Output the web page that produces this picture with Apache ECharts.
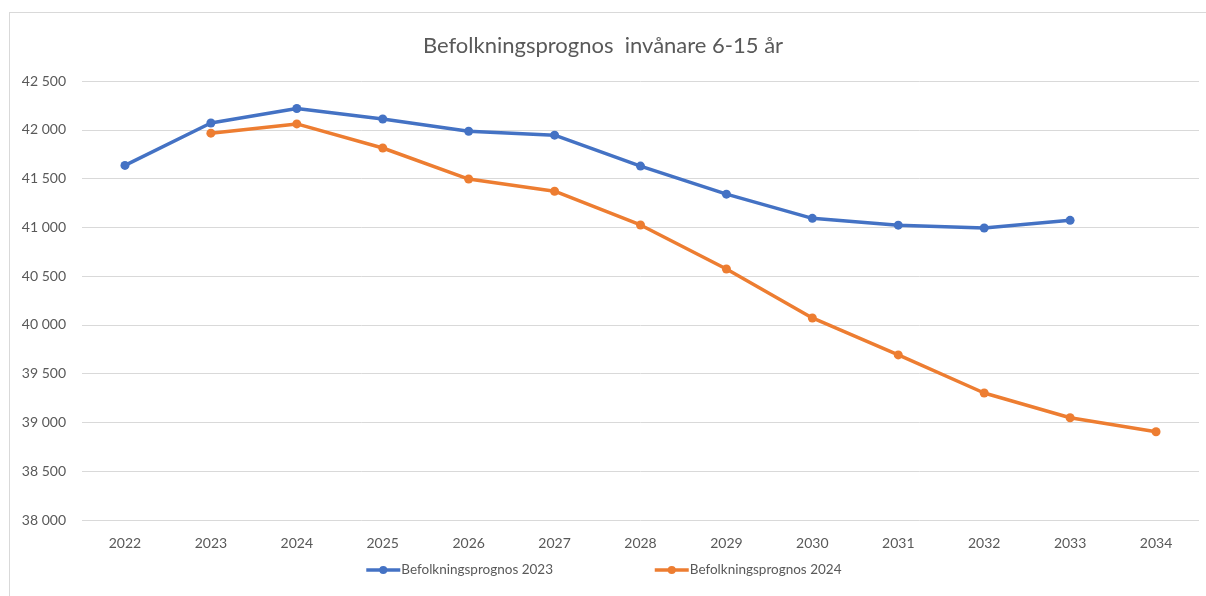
<!DOCTYPE html>
<html>
<head>
<meta charset="utf-8">
<script src="https://cdn.jsdelivr.net/npm/echarts@6/dist/echarts.min.js"></script>
<style>
  html,body{margin:0;padding:0;background:#fff;}
  #frame{position:absolute;left:9px;top:12px;width:1200px;height:600px;border:1px solid #d9d9d9;}
  #echarts_wrap{position:absolute;left:0;top:0;width:1206px;height:596px;}
</style>
</head>
<body>
<div id="frame"></div>
<div id="echarts_wrap"></div>
<script>
var years=['2022','2023','2024','2025','2026','2027','2028','2029','2030','2031','2032','2033','2034'];
var prognos2023=[41635,42070,42218,42110,41985,41945,41628,41340,41092,41022,40993,41072,null];
var prognos2024=[null,41965,42060,41813,41495,41370,41024,40573,40071,39692,39302,39048,38905];
var names=['Befolkningsprognos 2023','Befolkningsprognos 2024'];

var objEcharts=echarts.init(document.getElementById('echarts_wrap'));

var fmt=function(v){
  return String(v).replace(/\B(?=(\d{3})+(?!\d))/g,' ');
};

var option={
  animation:false,
  color:['#4472C4','#ED7D31'],
  textStyle:{fontFamily:'Lato'},
  title:{
    text:'Befolkningsprognos  invånare 6-15 år',
    left:'center',
    top:30,
    textStyle:{fontFamily:'Lato',fontSize:22,fontWeight:'normal',color:'#595959'}
  },
  legend:{
    bottom:14,
    left:'center',
    itemWidth:34,
    itemHeight:10,
    itemGap:100,
    lineStyle:{width:3.5},
    textStyle:{fontFamily:'Lato',fontSize:13.5,color:'#595959',padding:[0,0,0,-4]},
    data:names
  },
  grid:{left:82,right:7,top:81,bottom:76},
  xAxis:{
    type:'category',
    data:years,
    boundaryGap:true,
    axisLine:{show:false},
    axisTick:{show:false},
    axisLabel:{color:'#595959',fontSize:14,margin:16}
  },
  yAxis:{
    type:'value',
    min:38000,
    max:42500,
    interval:500,
    axisLine:{show:false},
    axisTick:{show:false},
    splitLine:{lineStyle:{color:'#d9d9d9',width:1}},
    axisLabel:{color:'#595959',fontSize:14,margin:16,formatter:fmt}
  },
  series:[
    {
      name:names[0],
      type:'line',
      data:prognos2023,
      symbol:'circle',
      symbolSize:9,
      lineStyle:{width:3.5},
      connectNulls:false
    },
    {
      name:names[1],
      type:'line',
      data:prognos2024,
      symbol:'circle',
      symbolSize:9,
      lineStyle:{width:3.5},
      connectNulls:false
    }
  ]
};

objEcharts.setOption(option);
</script>
</body>
</html>
